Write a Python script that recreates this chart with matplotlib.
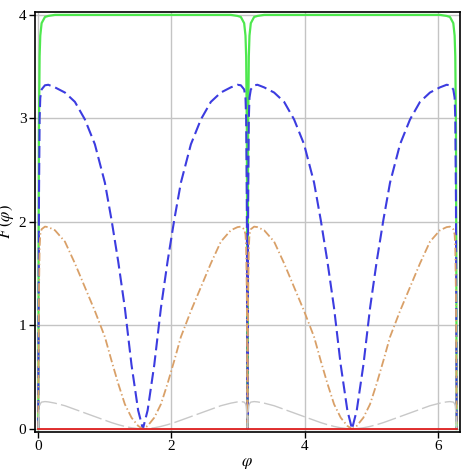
import matplotlib
matplotlib.use("Agg")
import matplotlib.pyplot as plt

# phase samples (denser near the sharp dips)
phi = [0.0, 0.005, 0.01, 0.02, 0.03, 0.05, 0.1, 0.15, 0.25, 0.4, 0.55, 0.7, 0.85, 1.0, 1.1, 1.2, 1.3, 1.4, 1.5,
       1.571,
       1.642, 1.742, 1.842, 1.942, 2.042, 2.142, 2.292, 2.442, 2.592, 2.742, 2.892, 2.992, 3.042, 3.092, 3.112,
       3.122, 3.132, 3.137, 3.1416,
       3.147, 3.152, 3.162, 3.172, 3.192, 3.242, 3.292, 3.392, 3.542, 3.692, 3.842, 3.992, 4.142, 4.242, 4.342,
       4.442, 4.542, 4.642,
       4.712,
       4.783, 4.883, 4.983, 5.083, 5.183, 5.283, 5.433, 5.583, 5.733, 5.883, 6.033, 6.133, 6.183, 6.233, 6.253,
       6.263, 6.273, 6.278, 6.2832]

F_green = [0.0, 1.8, 2.9, 3.6, 3.8, 3.92, 3.98, 3.99, 4.0, 4.0, 4.0, 4.0, 4.0, 4.0, 4.0, 4.0, 4.0, 4.0, 4.0,
           4.0,
           4.0, 4.0, 4.0, 4.0, 4.0, 4.0, 4.0, 4.0, 4.0, 4.0, 4.0, 3.99, 3.98, 3.92, 3.8, 3.6, 2.9, 1.8, 0.0,
           1.8, 2.9, 3.6, 3.8, 3.92, 3.98, 3.99, 4.0, 4.0, 4.0, 4.0, 4.0, 4.0, 4.0, 4.0, 4.0, 4.0, 4.0,
           4.0,
           4.0, 4.0, 4.0, 4.0, 4.0, 4.0, 4.0, 4.0, 4.0, 4.0, 4.0, 3.99, 3.98, 3.92, 3.8, 3.6, 2.9, 1.8, 0.0]

F_blue = [0.0, 1.2, 2.2, 3.0, 3.2, 3.28, 3.32, 3.325, 3.30, 3.25, 3.16, 2.99, 2.75, 2.38, 2.02, 1.62, 1.17, 0.62, 0.18,
          0.0,
          0.18, 0.62, 1.17, 1.62, 2.02, 2.38, 2.75, 2.99, 3.16, 3.25, 3.30, 3.325, 3.32, 3.28, 3.2, 3.0, 2.2, 1.2, 0.0,
          1.2, 2.2, 3.0, 3.2, 3.28, 3.32, 3.325, 3.30, 3.25, 3.16, 2.99, 2.75, 2.38, 2.02, 1.62, 1.17, 0.62, 0.18,
          0.0,
          0.18, 0.62, 1.17, 1.62, 2.02, 2.38, 2.75, 2.99, 3.16, 3.25, 3.30, 3.325, 3.32, 3.28, 3.2, 3.0, 2.2, 1.2, 0.0]

F_orange = [0.0, 0.7, 1.3, 1.75, 1.88, 1.93, 1.955, 1.95, 1.92, 1.81, 1.60, 1.37, 1.14, 0.89, 0.66, 0.44, 0.24, 0.11, 0.03,
            0.0,
            0.03, 0.11, 0.24, 0.44, 0.66, 0.89, 1.14, 1.37, 1.60, 1.81, 1.92, 1.95, 1.955, 1.93, 1.88, 1.75, 1.3, 0.7, 0.0,
            0.7, 1.3, 1.75, 1.88, 1.93, 1.955, 1.95, 1.92, 1.81, 1.60, 1.37, 1.14, 0.89, 0.66, 0.44, 0.24, 0.11, 0.03,
            0.0,
            0.03, 0.11, 0.24, 0.44, 0.66, 0.89, 1.14, 1.37, 1.60, 1.81, 1.92, 1.95, 1.955, 1.93, 1.88, 1.75, 1.3, 0.7, 0.0]

F_gray = [0.0, 0.08, 0.15, 0.22, 0.245, 0.26, 0.265, 0.262, 0.25, 0.225, 0.19, 0.155, 0.12, 0.085, 0.062, 0.042, 0.025, 0.012, 0.004,
          0.0,
          0.004, 0.012, 0.025, 0.042, 0.062, 0.085, 0.12, 0.155, 0.19, 0.225, 0.25, 0.262, 0.265, 0.26, 0.245, 0.22, 0.15, 0.08, 0.0,
          0.08, 0.15, 0.22, 0.245, 0.26, 0.265, 0.262, 0.25, 0.225, 0.19, 0.155, 0.12, 0.085, 0.062, 0.042, 0.025, 0.012, 0.004,
          0.0,
          0.004, 0.012, 0.025, 0.042, 0.062, 0.085, 0.12, 0.155, 0.19, 0.225, 0.25, 0.262, 0.265, 0.26, 0.245, 0.22, 0.15, 0.08, 0.0]

F_red = [0.0] * len(phi)

x_ticks = [0, 2, 4, 6]
y_ticks = [0, 1, 2, 3, 4]

plt.rcParams['font.family'] = ['Liberation Serif', 'DejaVu Serif']
plt.rcParams['lines.scale_dashes'] = False
plt.rcParams['mathtext.fontset'] = 'stix'

fig = plt.figure(figsize=(4.65, 4.69), dpi=100)
ax = fig.add_axes([0.0746, 0.0795, 0.9144, 0.8945])

ax.grid(True, color='#c4c4c4', linewidth=1.0, zorder=0)
ax.set_axisbelow(True)

ax.plot(phi, F_green, color='#4ee84e', linewidth=1.6, solid_joinstyle='round', zorder=2)
ax.plot(phi, F_blue, color='#3c3ce0', linewidth=1.5, linestyle=(0, (8.6, 3.6)), zorder=3)
ax.plot(phi, F_orange, color='#d9a068', linewidth=1.3, linestyle=(0, (6, 2, 1, 2)), zorder=4)
ax.plot(phi, F_gray, color='#c8c8c8', linewidth=1.0, linestyle=(0, (14, 3)), zorder=5)
ax.plot(phi, F_red, color='#e02020', linewidth=1.3, zorder=6)

ax.set_xlim(-0.054, 6.332)
ax.set_ylim(-0.026, 4.026)
ax.set_xticks(x_ticks)
ax.set_yticks(y_ticks)
ax.tick_params(direction='out', length=4, width=1, labelsize=11, pad=2)
for s in ax.spines.values():
    s.set_linewidth(1.2)
    s.set_color('black')

ax.set_xlabel(r'$\varphi$', fontsize=12, labelpad=2)
ax.set_ylabel(r'$F\,(\varphi)$', fontsize=12, labelpad=2)

fig.savefig('out.png', dpi=100)
